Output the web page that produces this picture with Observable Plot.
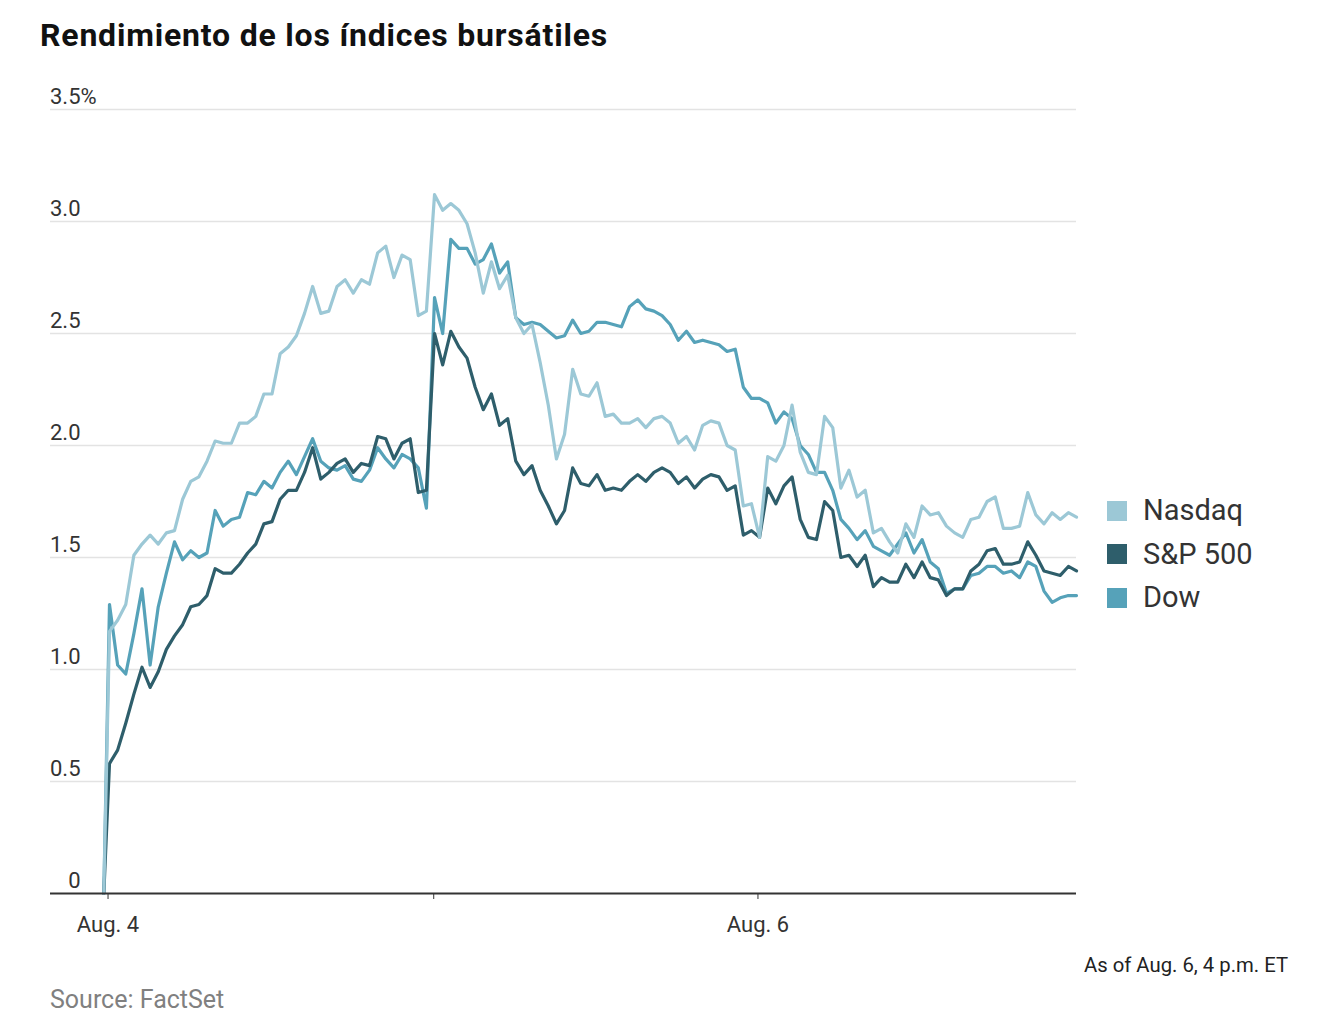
<!DOCTYPE html>
<html><head><meta charset="utf-8">
<script src="https://cdn.jsdelivr.net/npm/d3@7"></script>
<script src="https://cdn.jsdelivr.net/npm/@observablehq/plot@0.6"></script>
<style>
body{margin:0;background:#fff;width:1328px;height:1024px;position:relative;overflow:hidden;font-family:Roboto,sans-serif}
#title{position:absolute;left:40px;top:19px;font-weight:700;font-size:32px;line-height:32px;letter-spacing:0.8px;color:#111;white-space:nowrap}
#chart{position:absolute;left:0;top:60px}
#legend{position:absolute;left:1107px;top:489px}
.item{display:flex;align-items:center;height:43.5px;font-size:29px;line-height:29px;color:#333}
.sw{width:20px;height:20px;margin-right:16px;flex:none}
#note{position:absolute;right:40px;top:955px;font-size:20.3px;line-height:20.3px;color:#222;white-space:nowrap}
#source{position:absolute;left:50px;top:987px;font-size:25px;line-height:25px;color:#808080;white-space:nowrap}
</style></head>
<body>
<div id="title">Rendimiento de los índices bursátiles</div>
<div id="chart"></div>
<div id="legend"></div>
<div id="note">As of Aug. 6, 4 p.m. ET</div>
<div id="source">Source: FactSet</div>
<script>
// Series names and colours
const seriesNames = ["Nasdaq", "S&P 500", "Dow"];
const seriesColors = ["#9cc8d6", "#2e5e6b", "#56a2b9"];

// Percent change vs. previous close, 10-minute intervals (first value = previous close)
const nasdaq = [0,
 1.17,1.22,1.29,1.51,1.56,1.60,1.56,1.61,1.62,1.76,1.84,1.86,1.93,2.02,2.01,2.01,2.10,2.10,2.13,2.23,2.23,2.41,2.44,2.49,
 2.59,2.71,2.59,2.60,2.71,2.74,2.68,2.74,2.72,2.86,2.89,2.75,2.85,2.83,2.58,2.60,3.12,3.05,3.08,3.05,2.99,2.86,2.68,2.82,
 2.70,2.76,2.57,2.50,2.54,2.37,2.18,1.94,2.05,2.34,2.23,2.22,2.28,2.13,2.14,2.10,2.10,2.12,2.08,2.12,2.13,2.10,2.01,
 2.04,1.98,2.09,2.11,2.10,2.00,1.98,1.73,1.74,1.59,1.95,1.93,2.00,2.18,1.97,1.88,1.87,2.13,2.08,1.81,1.89,1.77,1.80,
 1.61,1.63,1.57,1.52,1.65,1.59,1.73,1.69,1.70,1.64,1.61,1.59,1.67,1.68,1.75,1.77,1.63,1.63,1.64,1.79,1.69,1.65,1.70,1.67,1.70,1.68];
const sp500 = [0,
 0.58,0.64,0.76,0.89,1.01,0.92,0.99,1.09,1.15,1.20,1.28,1.29,1.33,1.45,1.43,1.43,1.47,1.52,1.56,1.65,1.66,1.76,1.80,1.80,
 1.88,1.99,1.85,1.88,1.92,1.94,1.88,1.92,1.91,2.04,2.03,1.94,2.01,2.03,1.79,1.80,2.50,2.36,2.51,2.44,2.39,2.26,2.16,2.23,
 2.09,2.12,1.93,1.87,1.91,1.80,1.73,1.65,1.71,1.90,1.83,1.82,1.87,1.80,1.81,1.80,1.84,1.87,1.84,1.88,1.90,1.88,1.83,
 1.86,1.81,1.85,1.87,1.86,1.80,1.82,1.60,1.62,1.59,1.81,1.74,1.82,1.86,1.67,1.59,1.58,1.75,1.71,1.50,1.51,1.46,1.51,
 1.37,1.41,1.39,1.39,1.47,1.41,1.48,1.41,1.40,1.33,1.36,1.36,1.44,1.47,1.53,1.54,1.47,1.47,1.48,1.57,1.51,1.44,1.43,1.42,1.46,1.44];
const dow = [0,
 1.29,1.02,0.98,1.16,1.36,1.02,1.28,1.43,1.57,1.49,1.53,1.50,1.52,1.71,1.64,1.67,1.68,1.79,1.78,1.84,1.81,1.88,1.93,1.87,
 1.95,2.03,1.93,1.90,1.89,1.91,1.85,1.84,1.89,1.99,1.94,1.90,1.96,1.94,1.90,1.72,2.66,2.50,2.92,2.88,2.88,2.81,2.83,2.90,
 2.77,2.82,2.57,2.54,2.55,2.54,2.51,2.48,2.49,2.56,2.50,2.51,2.55,2.55,2.54,2.53,2.62,2.65,2.61,2.60,2.58,2.54,2.47,
 2.51,2.46,2.47,2.46,2.45,2.42,2.43,2.26,2.21,2.21,2.19,2.10,2.15,2.12,2.00,1.96,1.88,1.88,1.80,1.67,1.63,1.58,1.62,
 1.55,1.53,1.51,1.56,1.61,1.52,1.58,1.48,1.45,1.34,1.36,1.36,1.42,1.43,1.46,1.46,1.43,1.44,1.41,1.48,1.46,1.35,1.30,1.32,1.33,1.33];

// x positions: interval index (previous close sits just before the first interval)
const prevCloseX = 0.3;
const xDomain = [-6.26, 120];
const dayTickPos = [0.82, 40.9, 80.8];
const dayTickLabels = ["Aug. 4", "", "Aug. 6"];
const yTicks = [0, 0.5, 1, 1.5, 2, 2.5, 3, 3.5];
const yTickLabels = ["0", "0.5", "1.0", "1.5", "2.0", "2.5", "3.0", "3.5"];

const toRows = (vals) => vals.map((v, i) => ({k: i === 0 ? prevCloseX : i, v}));
const seriesData = [nasdaq, sp500, dow].map(toRows);
const tickLabelMap = new Map(dayTickPos.map((p, i) => [p, dayTickLabels[i]]));
const yLabelMap = new Map(yTicks.map((t, i) => [t, yTickLabels[i]]));

const chart = Plot.plot({
  width: 1328,
  height: 900,
  marginLeft: 50,
  marginRight: 252,
  marginTop: 49,
  marginBottom: 67,
  style: {fontFamily: "Roboto, sans-serif", fontSize: "22px", color: "#333", background: "transparent", overflow: "visible"},
  x: {domain: xDomain, ticks: dayTickPos, tickFormat: d => tickLabelMap.get(d), tickSize: 6, tickPadding: 17, label: null},
  y: {domain: [0, 3.5], axis: null},
  marks: [
    Plot.ruleY(yTicks.filter(d => d > 0), {stroke: "#e3e3e3", strokeWidth: 1.6}),
    Plot.text(yTicks, {y: d => d, text: d => yLabelMap.get(d), frameAnchor: "left", dx: 30, dy: -6, textAnchor: "end", lineAnchor: "bottom", fill: "#333", fontSize: 22}),
    Plot.text([yTicks[yTicks.length - 1]], {y: d => d, text: () => "%", frameAnchor: "left", dx: 30, dy: -6, textAnchor: "start", lineAnchor: "bottom", fill: "#333", fontSize: 22}),
    Plot.line(seriesData[2], {x: "k", y: "v", stroke: seriesColors[2], strokeWidth: 3.2, strokeLinejoin: "round"}),
    Plot.line(seriesData[1], {x: "k", y: "v", stroke: seriesColors[1], strokeWidth: 3.2, strokeLinejoin: "round"}),
    Plot.line(seriesData[0], {x: "k", y: "v", stroke: seriesColors[0], strokeWidth: 3.2, strokeLinejoin: "round"}),
    Plot.ruleY([0], {stroke: "#333", strokeWidth: 2})
  ]
});
document.getElementById("chart").appendChild(chart);

const legend = document.getElementById("legend");
seriesNames.forEach((name, i) => {
  const item = document.createElement("div");
  item.className = "item";
  const sw = document.createElement("span");
  sw.className = "sw";
  sw.style.background = seriesColors[i];
  const label = document.createElement("span");
  label.textContent = name;
  item.appendChild(sw);
  item.appendChild(label);
  legend.appendChild(item);
});
</script>
</body></html>
